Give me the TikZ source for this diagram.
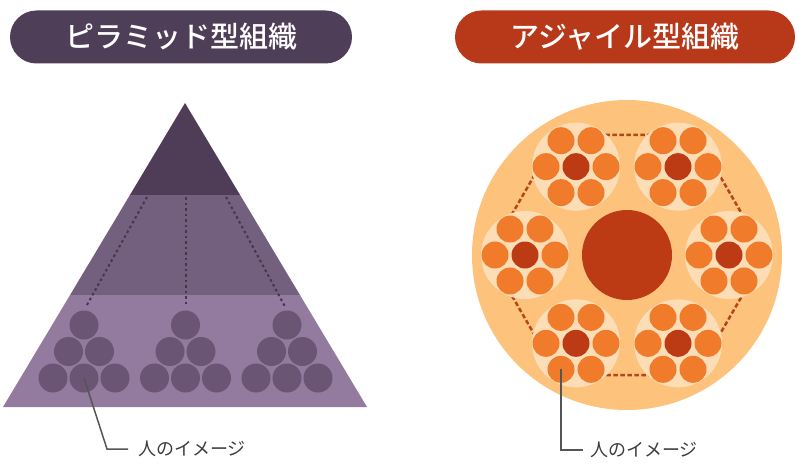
\documentclass[tikz,border=0pt]{standalone}
\usepackage{fontspec}
\newfontfamily\jp{Noto Sans CJK JP}
\newfontfamily\jpm{Noto Sans CJK JP Medium}
\usetikzlibrary{calc}
\definecolor{pyrT}{HTML}{4F3C57}
\definecolor{pyrM}{HTML}{735F7E}
\definecolor{pyrB}{HTML}{927B9F}
\definecolor{pyrC}{HTML}{6A5674}
\definecolor{pyrD}{HTML}{45354D}
\definecolor{hdrL}{HTML}{4E3E57}
\definecolor{hdrR}{HTML}{B8391A}
\definecolor{bigC}{HTML}{FDC27C}
\definecolor{grpC}{HTML}{FDDDB5}
\definecolor{outC}{HTML}{F07B2B}
\definecolor{inC}{HTML}{BC3B14}
\definecolor{hexC}{HTML}{B3471C}
\definecolor{callC}{HTML}{555555}
\definecolor{lblC}{HTML}{3D3D3D}
\tikzset{
  hdr/.style={rounded corners=26.5pt, minimum height=53pt, inner sep=0pt, text=white,
    font=\jpm\fontsize{29}{29}\selectfont},
  pcirc/.style={circle, fill=pyrC, minimum size=29pt, inner sep=0pt},
  pdash/.style={draw=pyrD, line width=2pt, dash pattern=on 2.5pt off 3pt, shorten >=5pt},
  grp/.style={circle, fill=grpC, minimum size=88pt, inner sep=0pt},
  outer/.style={circle, fill=outC, minimum size=27pt, inner sep=0pt},
  inner/.style={circle, fill=inC, minimum size=27pt, inner sep=0pt},
  hexdash/.style={draw=hexC, line width=2.5pt, dash pattern=on 4.5pt off 2.5pt},
  call/.style={draw=callC, line width=1.5pt},
  lbl/.style={anchor=west, inner sep=0pt, text=lblC, font=\jp\fontsize{18}{18}\selectfont}
}
\begin{document}
\begin{tikzpicture}[x=1pt, y=-1pt]
\useasboundingbox (0,0) rectangle (799,468);
% headers
\node[hdr, fill=hdrL, minimum width=342pt] (hL) at (181,37) {ピラミッド型組織};
\node[hdr, fill=hdrR, minimum width=340pt] (hR) at (625,37) {アジャイル型組織};
% pyramid
\begin{scope}
  \clip (185,103) -- (367,407) -- (3,407) -- cycle;
  \fill[pyrB] (0,295) rectangle (400,410);
  \fill[pyrM] (0,195) rectangle (400,295);
  \fill[pyrT] (0,100) rectangle (400,195);
\end{scope}
\foreach \i/\x in {0/84,1/185.5,2/287} {
  \node[pcirc] (P\i t) at (\x,325) {};
  \node[pcirc] (P\i m1) at (\x-15.5,351.5) {};
  \node[pcirc] (P\i m2) at (\x+15.5,351.5) {};
  \node[pcirc] (P\i b1) at (\x-31,378) {};
  \node[pcirc] (P\i b2) at (\x,378) {};
  \node[pcirc] (P\i b3) at (\x+31,378) {};
}
\coordinate (d0) at (147,197);
\coordinate (d1) at (185.5,197);
\coordinate (d2) at (226,197);
\draw[pdash] (d0) -- (P0t.north);
\draw[pdash] (d1) -- (P1t.north);
\draw[pdash] (d2) -- (P2t.north);
% agile
\fill[bigC] (627,255) circle (155);
\coordinate (C) at (627,255);
\draw[hexdash] ($(C)+(0:138.6)$) -- ($(C)+(60:138.6)$) -- ($(C)+(120:138.6)$) -- ($(C)+(180:138.6)$) -- ($(C)+(240:138.6)$) -- ($(C)+(300:138.6)$) -- cycle;
\node[circle, fill=inC, minimum size=90pt, inner sep=0pt] (core) at (C) {};
\foreach \g in {0,...,5} {
  \node[grp] (G\g) at ($(C)+(\g*60:102)$) {};
  \node[inner] (S\g c) at (G\g) {};
  \foreach \k in {0,...,5} {
    \node[outer] (S\g-\k) at ($(G\g)+(\k*60:30)$) {};
  }
}
% labels
\node[lbl] (L1) at (138,449) {人のイメージ};
\node[lbl] (L2) at (590,450) {人のイメージ};
\coordinate (k1) at (107,449);
\coordinate (k2) at (S2-2 |- L2);
\draw[call] (P0b2.center) -- (k1) -- ([xshift=-10pt]L1.west);
\draw[call] (S2-2.center) -- (k2) -- ([xshift=-7pt]L2.west);
\end{tikzpicture}
\end{document}
